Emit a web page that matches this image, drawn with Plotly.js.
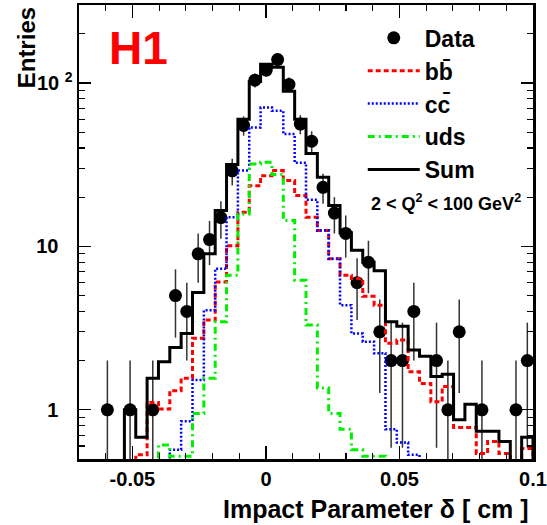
<!DOCTYPE html>
<html>
<head>
<meta charset="utf-8">
<script src="https://cdn.plot.ly/plotly-3.0.1.min.js"></script>
<style>html,body{margin:0;padding:0;background:#fff;}#chart{width:547px;height:525px;}</style>
</head>
<body>
<div id="chart"></div>
<script>
// Histogram binning (40 bins from -0.07 to 0.10 cm)
const binLow = -0.07;
const binHigh = 0.10;
const nBins = 40;

// Data entries per bin
const dataCounts = [0,0,1,0,1,0,1,0,5,4,9,11,15,29,55,104,120,139,98,56,44,23,16,12,6,8,3,2,2,4,0,2,1,3,0,1,0,0,1,2];

// MC predictions per bin
const sumMC = [0.2,0.2,0.2,0.2,1.0,0.68,1.56,1.97,2.41,2.93,5.22,9.03,16.6,31.7,60,102,130,125,89,60,37,26.5,17.8,12.1,9.46,8.0,7.1,3.46,3.25,2.32,2.13,1.6,1.65,0.87,1.08,0.74,0.74,0.64,0.2,0.68];
const bbMC  = [0.2,0.2,0.2,0.2,0.3,0.53,1.11,1.01,1.31,1.56,2.74,3.54,6.06,10.1,16.2,23.5,27.1,29.1,25.3,20.5,15.1,12.5,8.4,6.65,6.35,4.95,4.37,2.55,2.67,1.71,1.45,1.12,1.39,0.78,0.78,0.54,0.64,0.54,0.3,0.58];
const ccMC  = [0.1,0.1,0.1,0.1,0.2,0.1,0.3,0.35,0.57,0.85,1.52,4.07,7.3,15.1,29.1,53.4,70.7,67.5,48.7,32.5,19.3,12.5,8.4,4.37,2.93,2.61,2.22,0.76,0.63,0.53,0.3,0.2,0.2,0.1,0.2,0.1,0.1,0.1,0.1,0.1];
const udsMC = [0.1,0.1,0.1,0.1,0.2,0.05,0.15,0.61,0.52,0.52,0.95,1.56,3.46,6.65,15.8,31.9,32.7,27.5,14.4,6.2,3.3,1.36,0.95,0.76,0.57,0.52,0.52,0.1,0.1,0.1,0.1,0.1,0.1,0.1,0.1,0.1,0.1,0.1,0.1,0.1];

// Axis tick labels
const xTickVals = [-0.05, 0, 0.05, 0.1];
const xTickText = ['-0.05', '0', '0.05', '0.1'];
const yTickVals = [1, 10, 100];
const yTickText = ['1\u2002\u2009', '10\u2002\u2009', '10 <sup>2</sup>'];
const yMinorVals = [0.5,0.6,0.7,0.8,0.9,2,3,4,5,6,7,8,9,20,30,40,50,60,70,80,90,200,300];

const legendNames = ['Data', 'bb\u0304', 'cc\u0304', 'uds', 'Sum'];

const binW = (binHigh - binLow) / nBins;
const edges = [];
for (let i = 0; i <= nBins; i++) edges.push(binLow + i * binW);
const centers = edges.slice(0, nBins).map(e => e + binW / 2);

function stepTrace(vals, name, color, width, dash) {
  const x = edges.slice(0, nBins).concat([edges[nBins], edges[nBins]]);
  const y = vals.concat([vals[nBins - 1], 0.1]);
  return {x: x, y: y, type: 'scatter', mode: 'lines', name: name,
    line: {shape: 'hv', color: color, width: width, dash: dash}, hoverinfo: 'skip'};
}

const dx = [], dy = [], ep = [], em = [];
dataCounts.forEach((n, i) => {
  if (n > 0) {
    dx.push(centers[i]); dy.push(n);
    const e = Math.sqrt(n);
    ep.push(e);
    em.push(n - e > 0.05 ? e : n - 0.05);
  }
});

const traces = [
  {x: dx, y: dy, type: 'scatter', mode: 'markers', name: legendNames[0],
   marker: {color: '#000', size: 13, symbol: 'circle'},
   error_y: {type: 'data', symmetric: false, array: ep, arrayminus: em, color: '#333', thickness: 1.5, width: 0}},
  stepTrace(bbMC, legendNames[1], '#ff0000', 3, '5px,3px'),
  stepTrace(ccMC, legendNames[2], '#0000ff', 2.5, '2px,2px'),
  stepTrace(udsMC, legendNames[3], '#00ee00', 3, '7px,4px,2px,4px'),
  stepTrace(sumMC, legendNames[4], '#000000', 3, 'solid')
];

const font = {family: 'Liberation Sans, Arial, sans-serif', color: '#000', weight: 'bold'};

const layout = {
  width: 547, height: 525,
  margin: {l: 79, r: 14, t: 5, b: 66, pad: 0},
  paper_bgcolor: '#fff', plot_bgcolor: '#fff',
  showlegend: true,
  legend: {x: 0.625, y: 0.975, xanchor: 'left', yanchor: 'top', bgcolor: 'rgba(0,0,0,0)',
    font: Object.assign({}, font, {size: 23}), itemwidth: 52, tracegroupgap: 0},
  xaxis: {range: [binLow, binHigh], showgrid: false, zeroline: false,
    showline: true, linecolor: '#000', linewidth: 2.5, mirror: 'allticks',
    ticks: 'inside', ticklen: 13, tickwidth: 1.2, tickcolor: '#000',
    tickvals: xTickVals, ticktext: xTickText,
    tickfont: Object.assign({}, font, {size: 20}),
    minor: {ticks: 'inside', dtick: 0.01, tick0: 0, ticklen: 6, tickwidth: 1.2, tickcolor: '#000', showgrid: false}},
  yaxis: {type: 'log', range: [Math.log10(0.5), Math.log10(300)], showgrid: false, zeroline: false,
    showline: true, linecolor: '#000', linewidth: 2.5, mirror: 'allticks',
    ticks: 'inside', ticklen: 12, tickwidth: 1.2, tickcolor: '#000',
    tickvals: yTickVals, ticktext: yTickText,
    tickfont: Object.assign({}, font, {size: 20}),
    minor: {ticks: 'inside', tickvals: yMinorVals, ticklen: 6, tickwidth: 1.2, tickcolor: '#000', showgrid: false}},
  annotations: [
    {text: 'Entries', xref: 'paper', yref: 'paper', x: -0.115, y: 1.0, xanchor: 'center', yanchor: 'top',
     textangle: -90, showarrow: false, font: Object.assign({}, font, {size: 24})},
    {text: 'Impact Parameter \u03b4 [ cm ]', xref: 'paper', yref: 'paper', x: 0.995, y: -0.075, xanchor: 'right', yanchor: 'top',
     showarrow: false, font: Object.assign({}, font, {size: 25})},
    {text: 'H1', xref: 'paper', yref: 'paper', x: 0.13, y: 0.905, xanchor: 'center', yanchor: 'middle',
     showarrow: false, font: Object.assign({}, font, {size: 46, color: '#ff0000'})},
    {text: '2 &lt; Q<sup>2</sup> &lt; 100 GeV<sup>2</sup>', xref: 'paper', yref: 'paper', x: 0.638, y: 0.565, xanchor: 'left', yanchor: 'middle',
     showarrow: false, font: Object.assign({}, font, {size: 18})}
  ]
};

Plotly.newPlot('chart', traces, layout, {staticPlot: true, displayModeBar: false});
</script>
</body>
</html>
